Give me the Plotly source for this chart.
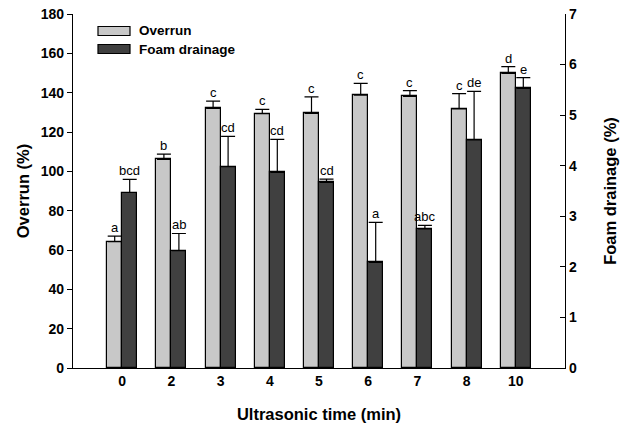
import plotly.graph_objects as go

categories = ["0", "2", "3", "4", "5", "6", "7", "8", "10"]
overrun = [64.2, 106.1, 132.0, 129.3, 129.5, 138.8, 138.1, 131.7, 149.8]
overrun_err = [2.9, 2.7, 3.7, 2.2, 8.4, 5.9, 2.9, 7.8, 3.4]
overrun_letters = ["a", "b", "c", "c", "c", "c", "c", "c", "d"]
drainage = [3.47, 2.32, 3.98, 3.87, 3.67, 2.09, 2.75, 4.51, 5.53]
drainage_err = [0.26, 0.34, 0.60, 0.65, 0.065, 0.79, 0.07, 0.96, 0.21]
drainage_letters = ["bcd", "ab", "cd", "cd", "cd", "a", "abc", "de", "e"]

FONT = "Liberation Sans, Arial, sans-serif"
BW = 0.305
W, H = 621, 425
L, R, T, B = 73, 56, 14, 57
PW, PH = W - L - R, H - T - B

fig = go.Figure()
fig.add_trace(go.Bar(
    x=categories, y=overrun, name="Overrun", yaxis="y",
    width=BW, offset=-BW,
    marker=dict(color="#c8c8c8", line=dict(color="black", width=1.2)),
    error_y=dict(type="data", array=overrun_err, arrayminus=[0] * len(overrun_err),
                 symmetric=False, color="black", thickness=1.2, width=7),
    showlegend=False,
))
fig.add_trace(go.Bar(
    x=categories, y=drainage, name="Foam drainage", yaxis="y2",
    width=BW, offset=0,
    marker=dict(color="#404040", line=dict(color="black", width=1.2)),
    error_y=dict(type="data", array=drainage_err, arrayminus=[0] * len(drainage_err),
                 symmetric=False, color="black", thickness=1.2, width=7),
    showlegend=False,
))

annotations = []
for i, (v, e, t) in enumerate(zip(overrun, overrun_err, overrun_letters)):
    annotations.append(dict(x=i - BW / 2, y=v + e, xref="x", yref="y", text=t,
                            showarrow=False, yanchor="bottom", yshift=-1,
                            font=dict(family=FONT, size=13, color="black")))
for i, (v, e, t) in enumerate(zip(drainage, drainage_err, drainage_letters)):
    annotations.append(dict(x=i + BW / 2, y=v + e, xref="x", yref="y2", text=t,
                            showarrow=False, yanchor="bottom", yshift=-1,
                            font=dict(family=FONT, size=13, color="black")))

# manual legend (page pixel coordinates -> paper)
def px_x(p):
    return (p - L) / PW

def px_y(p):
    return (T + PH - p) / PH

legend_items = [("Overrun", "#c8c8c8", 31), ("Foam drainage", "#404040", 49)]
shapes = []
for name, col, cy in legend_items:
    shapes.append(dict(type="rect", xref="paper", yref="paper",
                       x0=px_x(98), x1=px_x(130), y0=px_y(cy + 4.5), y1=px_y(cy - 4.5),
                       fillcolor=col, line=dict(color="black", width=1.2)))
    annotations.append(dict(x=px_x(137), y=px_y(cy), xref="paper", yref="paper",
                            text=name, showarrow=False, xanchor="left", yanchor="middle",
                            font=dict(family=FONT, size=13.5, color="black", weight="bold")))

fig.update_layout(
    width=W, height=H,
    margin=dict(l=L, r=R, t=T, b=B, pad=0, autoexpand=False),
    paper_bgcolor="white", plot_bgcolor="white",
    font=dict(family=FONT, color="black"),
    bargap=0,
    xaxis=dict(type="category", range=[-1, 9], showline=True, linecolor="black",
               linewidth=1.3, ticks="", showgrid=False, zeroline=False, automargin=False,
               tickfont=dict(family=FONT, size=14, weight="bold"),
               title=dict(text="Ultrasonic time (min)", standoff=20,
                          font=dict(family=FONT, size=16.5, weight="bold"))),
    yaxis=dict(range=[0, 180], dtick=20, ticks="outside", ticklen=5, tickwidth=1.2,
               tickcolor="black", showline=True, linecolor="black", linewidth=1.3,
               showgrid=False, zeroline=False, automargin=False,
               ticklabeloverflow="allow",
               tickfont=dict(family=FONT, size=14, weight="bold"),
               title=dict(text="Overrun (%)", standoff=6,
                          font=dict(family=FONT, size=16.5, weight="bold"))),
    yaxis2=dict(range=[0, 7], dtick=1, overlaying="y", side="right", ticks="inside",
                ticklen=5, tickwidth=1.2, tickcolor="black", showline=True,
                linecolor="black", linewidth=1.3, showgrid=False, zeroline=False,
                automargin=False, ticklabeloverflow="allow",
                tickfont=dict(family=FONT, size=14, weight="bold"),
                title=dict(text="Foam drainage (%)", standoff=28,
                           font=dict(family=FONT, size=16.5, weight="bold"))),
    annotations=annotations,
    shapes=shapes,
)

fig.write_html("out.html",
               config={"displayModeBar": False},
               post_script="document.body.style.margin='0';document.body.style.overflow='hidden';")
